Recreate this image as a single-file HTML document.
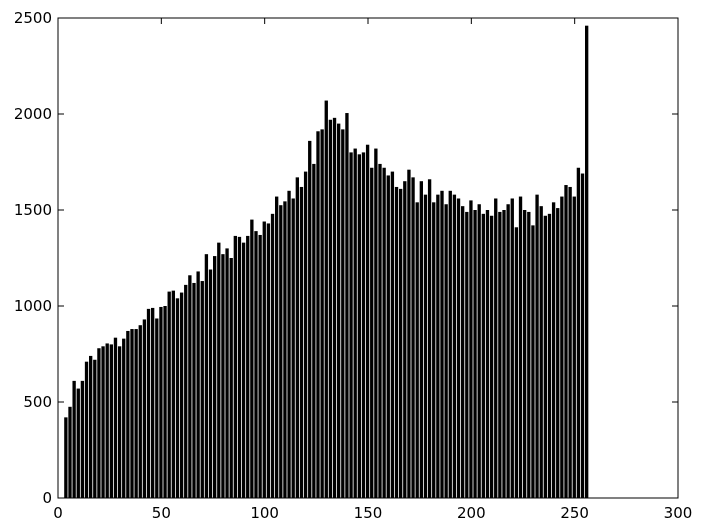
<!DOCTYPE html>
<html><head><meta charset="utf-8"><style>
html,body{margin:0;padding:0;background:#fff;}
svg{display:block;font-family:"DejaVu Sans","Liberation Sans",sans-serif;}
</style></head><body>
<svg id="chart" width="703" height="532"></svg>
<script>
const values = [420,475,610,570,610,710,740,720,780,790,
805,800,835,790,830,870,880,880,900,930,
985,990,935,995,1000,1075,1080,1040,1070,1110,
1160,1120,1180,1130,1270,1190,1260,1330,1270,1300,
1250,1365,1360,1330,1365,1450,1390,1370,1440,1430,
1480,1570,1525,1545,1600,1560,1670,1620,1700,1860,1740,1910,1920,
2070,1970,1980,1950,1920,2005,
1800,1820,1790,1800,1840,1720,1820,1740,1720,1680,1700,1620,1610,1650,1710,1670,1540,1650,1580,1660,1540,1580,1600,1530,1600,1580,1560,1520,1490,1550,1500,1530,1480,1500,1470,1560,1490,1500,1530,1560,1410,1570,1500,1490,1420,1580,1520,1470,1480,1540,1510,1570,1630,1620,1570,1720,1690,2460];
const xTicks = [0,50,100,150,200,250,300];
const yTicks = [0,500,1000,1500,2000,2500];
const xStart = 3, binWidth = 2;

const L=58,R=678,T=18,B=498;
const sx = v => L + (v-0)/300*(R-L);
const sy = v => B - v/2500*(B-T);
const NS="http://www.w3.org/2000/svg";
const svg=document.getElementById('chart');
function mk(t,a){const e=document.createElementNS(NS,t);for(const k in a)e.setAttribute(k,a[k]);svg.appendChild(e);return e;}

values.forEach((v,i)=>{
  const x0=sx(xStart+i*binWidth), x1=sx(xStart+(i+1)*binWidth);
  const r=mk('rect',{x:x0,y:sy(v),width:Math.max(0.5,x1-x0-0.8),height:B-sy(v),fill:'#000'});
  
  
});

const frame=mk('rect',{x:L,y:T,width:R-L,height:B-T,fill:'none',stroke:'#000','stroke-width':1});



xTicks.forEach(t=>{
  const x=sx(t);
  mk('line',{x1:x,x2:x,y1:B,y2:B-6,stroke:'#000'});
  mk('line',{x1:x,x2:x,y1:T,y2:T+6,stroke:'#000'});
  const tx=mk('text',{x:x,y:B+20,'text-anchor':'middle','font-size':15});
  tx.textContent=t;
  
  
});
yTicks.forEach(t=>{
  const y=sy(t);
  mk('line',{x1:L,x2:L+6,y1:y,y2:y,stroke:'#000'});
  mk('line',{x1:R,x2:R-6,y1:y,y2:y,stroke:'#000'});
  const tx=mk('text',{x:L-6,y:y+5,'text-anchor':'end','font-size':15});
  tx.textContent=t;
  
  
});
</script>
</body></html>
